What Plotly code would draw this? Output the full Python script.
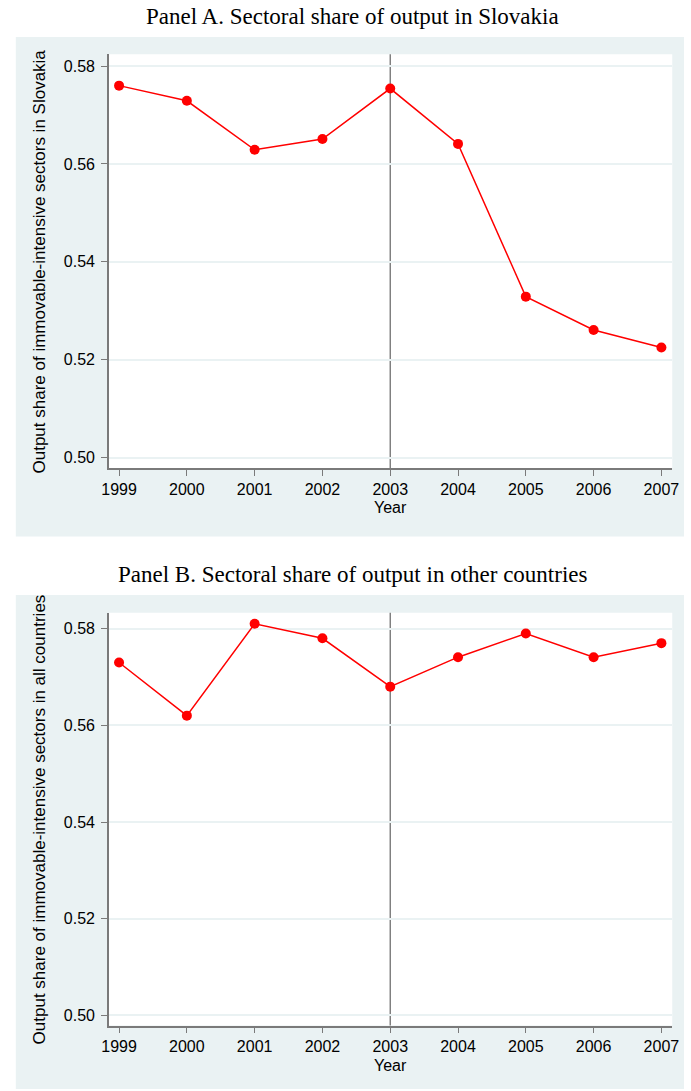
import plotly.graph_objects as go

# Sector output shares, 1999-2007
years = [1999, 2000, 2001, 2002, 2003, 2004, 2005, 2006, 2007]
share_slovakia = [0.5760, 0.5729, 0.5629, 0.5651, 0.5754, 0.5641, 0.5329, 0.5261, 0.5225]
share_other = [0.5730, 0.5620, 0.5810, 0.5780, 0.5680, 0.5741, 0.5790, 0.5741, 0.5770]

y_ticks = [0.50, 0.52, 0.54, 0.56, 0.58]
reform_year = 2003

panel_titles = [
    "Panel A. Sectoral share of output in Slovakia",
    "Panel B. Sectoral share of output in other countries",
]
y_titles = [
    "Output share of immovable-intensive sectors in Slovakia",
    "Output share of immovable-intensive sectors in all countries",
]
x_title = "Year"

W, H = 691, 1091
RED = "#FF0000"
BG = "#EAF2F3"
AXIS = "#7A7A7A"
SANS = "Liberation Sans, Arial, sans-serif"
SERIF = "Liberation Serif, Times New Roman, serif"


def py(p):
    """Pixel row (from the top) to paper y."""
    return 1 - p / H


fig = go.Figure()

fig.add_trace(go.Scatter(
    x=years, y=share_slovakia, mode="lines+markers",
    line=dict(color=RED, width=1.5), marker=dict(color=RED, size=10),
    xaxis="x", yaxis="y", showlegend=False, hoverinfo="skip",
))
fig.add_trace(go.Scatter(
    x=years, y=share_other, mode="lines+markers",
    line=dict(color=RED, width=1.5), marker=dict(color=RED, size=10),
    xaxis="x2", yaxis="y2", showlegend=False, hoverinfo="skip",
))

x_px = [104, 679]
x_dom = [x_px[0] / W, x_px[1] / W]
panels = [
    # plot top, plot bottom, bg top, bg bottom, title y, year-label y
    dict(top=54.3, bottom=468.0, bg_top=37, bg_bottom=536.5, title=17, year=507),
    dict(top=612.7, bottom=1025.5, bg_top=595, bg_bottom=1089, title=574, year=1065),
]

axis_common = dict(
    showline=True, linecolor=AXIS, linewidth=1.5,
    ticks="outside", ticklen=6, tickwidth=1.3, tickcolor=AXIS,
    tickfont=dict(family=SANS, size=16, color="#000000"),
    zeroline=False, mirror=False,
)

layout = dict(
    width=W, height=H,
    margin=dict(l=0, r=0, t=0, b=0),
    paper_bgcolor="#FFFFFF", plot_bgcolor="#FFFFFF",
    shapes=[], annotations=[],
)

for i, p in enumerate(panels):
    sfx = "" if i == 0 else str(i + 1)
    layout["xaxis" + sfx] = dict(
        axis_common, domain=x_dom, anchor="y" + sfx,
        range=[1998.85, 2007.16], tickvals=years, showgrid=False,
        ticklabelstandoff=0,
    )
    layout["yaxis" + sfx] = dict(
        axis_common, domain=[py(p["bottom"]), py(p["top"])], anchor="x" + sfx,
        range=[0.4979, 0.5824 if i == 0 else 0.5833], tickvals=y_ticks, tickformat=".2f",
        showgrid=True, gridcolor=BG, gridwidth=1.5, ticklabelstandoff=3,
    )
    # panel background, then the white plotting region on top of it
    layout["shapes"].append(dict(
        type="rect", xref="paper", yref="paper", layer="below",
        x0=9 / W, x1=1.0, y0=py(p["bg_bottom"]), y1=py(p["bg_top"]),
        fillcolor=BG, line=dict(width=0),
    ))
    layout["shapes"].append(dict(
        type="rect", xref="paper", yref="paper", layer="below",
        x0=x_dom[0], x1=x_dom[1], y0=py(p["bottom"]), y1=py(p["top"]),
        fillcolor="#FFFFFF", line=dict(width=0),
    ))
    # vertical reference line at the reform year
    layout["shapes"].append(dict(
        type="line", xref="x" + sfx, yref="y" + sfx + " domain",
        x0=reform_year, x1=reform_year, y0=0, y1=1,
        line=dict(color="#707070", width=1.3), layer="below",
    ))
    layout["annotations"].append(dict(
        text=panel_titles[i], xref="paper", yref="paper",
        x=353 / W, y=py(p["title"]), xanchor="center", yanchor="middle",
        showarrow=False,
        font=dict(family=SERIF, size=23, color="#000000"),
    ))
    layout["annotations"].append(dict(
        text=y_titles[i], xref="paper", yref="paper",
        x=33 / W, y=py((p["top"] + p["bottom"]) / 2), xanchor="center", yanchor="middle",
        textangle=-90, showarrow=False,
        font=dict(family=SANS, size=17, color="#000000"),
    ))
    layout["annotations"].append(dict(
        text=x_title, xref="paper", yref="paper",
        x=(x_dom[0] + x_dom[1]) / 2, y=py(p["year"]), xanchor="center", yanchor="middle",
        showarrow=False,
        font=dict(family=SANS, size=16, color="#000000"),
    ))

fig.update_layout(**layout)
fig.write_html("out.html")
